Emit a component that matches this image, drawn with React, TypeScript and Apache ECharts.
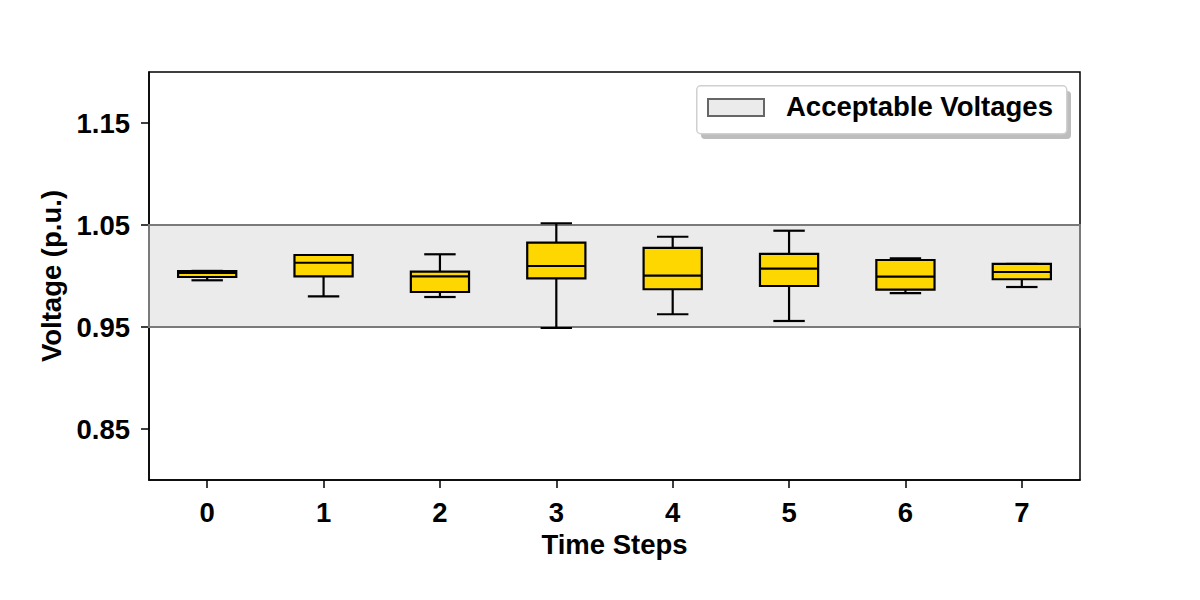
import React, { useEffect, useRef } from "react";
import * as echarts from "echarts";

const categories = ["0", "1", "2", "3", "4", "5", "6", "7"];
const lows = [0.9958, 0.98, 0.9794, 0.949, 0.9625, 0.9559, 0.9833, 0.9892];
const q1s = [0.999, 0.9997, 0.9843, 0.9977, 0.987, 0.9902, 0.9866, 0.9968];
const medians = [1.003, 1.013, 0.9997, 1.0098, 1.0003, 1.0072, 0.9993, 1.0039];
const q3s = [1.0049, 1.0206, 1.0042, 1.0327, 1.0275, 1.0216, 1.0157, 1.0118];
const highs = [1.005, 1.0206, 1.0213, 1.0517, 1.0385, 1.0444, 1.0173, 1.0118];
const yTicks = [0.85, 0.95, 1.05, 1.15];
const bandLow = 0.95;
const bandHigh = 1.05;
const legendLabel = "Acceptable Voltages";

const FONT = "'Liberation Sans', Arial, Helvetica, sans-serif";
const FS = 27.5;

export default function App() {
  const ref = useRef<HTMLDivElement>(null);
  useEffect(() => {
    if (!ref.current) return;
    const chart = echarts.init(ref.current, null, { renderer: "svg" });
    const boxData = categories.map((_, i) => [i, lows[i], q1s[i], medians[i], q3s[i], highs[i]]);
    const option: any = {
      animation: false,
      backgroundColor: "#fff",
      textStyle: { fontFamily: FONT },
      grid: {
        left: 149,
        right: 120,
        top: 72,
        bottom: 120,
        show: true,
        borderColor: "#000",
        borderWidth: 1.5,
        backgroundColor: "transparent",
      },
      xAxis: {
        type: "category",
        data: categories,
        boundaryGap: true,
        name: "Time Steps",
        nameLocation: "middle",
        nameGap: 50,
        nameTextStyle: { fontSize: FS, fontWeight: "bold", color: "#000", fontFamily: FONT },
        axisLine: { show: true, lineStyle: { color: "#000", width: 1.5 } },
        axisTick: { show: true, alignWithLabel: true, length: 8, lineStyle: { color: "#000", width: 1.5 } },
        axisLabel: { fontSize: FS, fontWeight: "bold", color: "#000", margin: 18, fontFamily: FONT },
        splitLine: { show: false },
      },
      yAxis: {
        type: "value",
        min: 0.8,
        max: 1.2,
        name: "Voltage (p.u.)",
        nameLocation: "middle",
        nameGap: 82,
        nameTextStyle: { fontSize: FS, fontWeight: "bold", color: "#000", fontFamily: FONT },
        axisLine: { show: true, lineStyle: { color: "#000", width: 1.5 } },
        axisTick: {
          show: true,
          length: 8,
          customValues: yTicks,
          lineStyle: { color: "#000", width: 1.5 },
        },
        axisLabel: {
          fontSize: FS,
          fontWeight: "bold",
          color: "#000",
          margin: 19,
          customValues: yTicks,
          formatter: (v: number) => v.toFixed(2),
          fontFamily: FONT,
        },
        splitLine: { show: false },
      },
      series: [
        {
          type: "line",
          name: legendLabel,
          data: [],
          silent: true,
          markArea: {
            silent: true,
            itemStyle: { color: "#ebebeb", borderColor: "#7a7a7a", borderWidth: 2 },
            data: [[{ yAxis: bandLow }, { yAxis: bandHigh }]],
          },
          z: 1,
        },
        {
          type: "custom",
          z: 5,
          data: boxData,
          encode: { x: 0, y: [1, 2, 3, 4, 5] },
          renderItem: (params: any, api: any) => {
            const idx = api.value(0);
            const low = api.coord([idx, api.value(1)]);
            const q1 = api.coord([idx, api.value(2)]);
            const med = api.coord([idx, api.value(3)]);
            const q3 = api.coord([idx, api.value(4)]);
            const high = api.coord([idx, api.value(5)]);
            const bw = api.size([1, 0])[0] * 0.5;
            const cw = bw * 0.54;
            const cx = low[0];
            const ls = { stroke: "#000", lineWidth: 2.2 };
            return {
              type: "group",
              children: [
                { type: "line", shape: { x1: cx, y1: low[1], x2: cx, y2: q1[1] }, style: ls },
                { type: "line", shape: { x1: cx, y1: q3[1], x2: cx, y2: high[1] }, style: ls },
                { type: "line", shape: { x1: cx - cw / 2, y1: low[1], x2: cx + cw / 2, y2: low[1] }, style: ls },
                { type: "line", shape: { x1: cx - cw / 2, y1: high[1], x2: cx + cw / 2, y2: high[1] }, style: ls },
                {
                  type: "rect",
                  shape: { x: cx - bw / 2, y: q3[1], width: bw, height: q1[1] - q3[1] },
                  style: { fill: "#FFD700", stroke: "#000", lineWidth: 2.2 },
                },
                { type: "line", shape: { x1: cx - bw / 2, y1: med[1], x2: cx + bw / 2, y2: med[1] }, style: ls },
              ],
            };
          },
        },
      ],
      graphic: [
        {
          type: "rect",
          left: 701,
          top: 91,
          shape: { width: 370, height: 48, r: 4 },
          style: { fill: "#bdbdbd" },
          z: 10,
        },
        {
          type: "rect",
          left: 696,
          top: 85,
          shape: { width: 370, height: 48, r: 4 },
          style: { fill: "#fff", stroke: "#d0d0d0", lineWidth: 1.5 },
          z: 11,
        },
        {
          type: "rect",
          left: 707,
          top: 98,
          shape: { width: 56, height: 17 },
          style: { fill: "#ebebeb", stroke: "#666", lineWidth: 2 },
          z: 12,
        },
        {
          type: "text",
          left: 786,
          top: 92,
          style: {
            text: legendLabel,
            fontSize: FS,
            fontWeight: "bold",
            fill: "#000",
            fontFamily: FONT,
          },
          z: 12,
        },
      ],
    };
    chart.setOption(option);
    return () => chart.dispose();
  }, []);
  return (
    <div
      ref={ref}
      style={{ position: "fixed", left: 0, top: 0, width: 1200, height: 600, background: "#fff" }}
    />
  );
}
